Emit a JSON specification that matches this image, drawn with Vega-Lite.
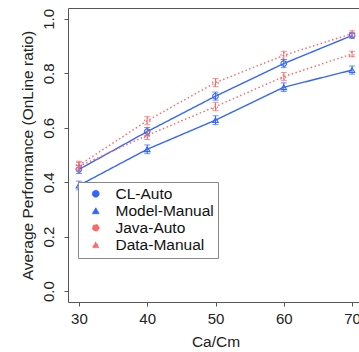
{
  "$schema": "https://vega.github.io/schema/vega-lite/v6.json",
  "autosize": "none",
  "width": 295,
  "height": 294,
  "padding": {"left": 68, "top": 8, "right": 0, "bottom": 50},
  "background": "white",
  "config": {
    "font": "Liberation Sans",
    "view": {"stroke": "#555", "strokeWidth": 1},
    "axis": {"grid": false, "domain": false, "tickColor": "#555", "tickSize": 4, "labelFont": "Liberation Sans", "titleFont": "Liberation Sans", "labelFontSize": 15, "titleFontSize": 15.5, "titleFontWeight": "normal", "labelColor": "#222", "titleColor": "#222"},
    "legend": {"orient": "none", "legendX": 10, "legendY": 174, "fillColor": "white", "strokeColor": "#888", "padding": 4, "labelFontSize": 15.5, "labelColor": "#111", "labelFont": "Liberation Sans", "symbolSize": 45, "symbolStrokeWidth": 1, "symbolFillColor": "transparent", "labelOffset": 12, "rowPadding": -4, "symbolOffset": 6}
  },
  "data": {"values": [
    {"series": "CL-Auto", "x": 30, "y": 0.447, "lo": 0.432, "hi": 0.462},
    {"series": "CL-Auto", "x": 40, "y": 0.586, "lo": 0.571, "hi": 0.601},
    {"series": "CL-Auto", "x": 50, "y": 0.716, "lo": 0.701, "hi": 0.731},
    {"series": "CL-Auto", "x": 60, "y": 0.836, "lo": 0.821, "hi": 0.851},
    {"series": "CL-Auto", "x": 70, "y": 0.939, "lo": 0.929, "hi": 0.949},
    {"series": "Model-Manual", "x": 30, "y": 0.388, "lo": 0.372, "hi": 0.404},
    {"series": "Model-Manual", "x": 40, "y": 0.521, "lo": 0.505, "hi": 0.537},
    {"series": "Model-Manual", "x": 50, "y": 0.628, "lo": 0.612, "hi": 0.644},
    {"series": "Model-Manual", "x": 60, "y": 0.749, "lo": 0.733, "hi": 0.765},
    {"series": "Model-Manual", "x": 70, "y": 0.812, "lo": 0.797, "hi": 0.827},
    {"series": "Java-Auto", "x": 30, "y": 0.462, "lo": 0.447, "hi": 0.477},
    {"series": "Java-Auto", "x": 40, "y": 0.626, "lo": 0.611, "hi": 0.641},
    {"series": "Java-Auto", "x": 50, "y": 0.766, "lo": 0.751, "hi": 0.781},
    {"series": "Java-Auto", "x": 60, "y": 0.866, "lo": 0.851, "hi": 0.881},
    {"series": "Java-Auto", "x": 70, "y": 0.946, "lo": 0.936, "hi": 0.956},
    {"series": "Data-Manual", "x": 30, "y": 0.458, "lo": 0.443, "hi": 0.473},
    {"series": "Data-Manual", "x": 40, "y": 0.572, "lo": 0.557, "hi": 0.587},
    {"series": "Data-Manual", "x": 50, "y": 0.678, "lo": 0.663, "hi": 0.693},
    {"series": "Data-Manual", "x": 60, "y": 0.788, "lo": 0.773, "hi": 0.803},
    {"series": "Data-Manual", "x": 70, "y": 0.871, "lo": 0.861, "hi": 0.881}
  ]},
  "encoding": {
    "x": {"field": "x", "type": "quantitative", "scale": {"domain": [28.4, 71.6], "nice": false, "zero": false},
      "axis": {"values": [30, 40, 50, 60, 70], "title": "Ca/Cm", "labelPadding": 5, "titlePadding": 8}},
    "y": {"field": "y", "type": "quantitative", "scale": {"domain": [-0.04, 1.04], "nice": false, "zero": false},
      "axis": {"values": [0, 0.2, 0.4, 0.6, 0.8, 1.0], "format": ".1f", "title": "Average Performance (OnLine ratio)", "labelAngle": -90, "labelAlign": "center", "labelBaseline": "alphabetic", "labelPadding": 10.7, "titleAngle": -90, "titleAlign": "center", "titleBaseline": "alphabetic", "titleX": -36}}
  },
  "layer": [
    {
      "mark": {"type": "point", "filled": false, "size": 30, "strokeWidth": 1.1, "opacity": 1},
      "encoding": {
        "color": {"field": "series", "type": "nominal", "title": null, "scale": {"domain": ["CL-Auto", "Model-Manual", "Java-Auto", "Data-Manual"], "range": ["#3366FF", "#3366FF", "#FF6666", "#FF6666"]}},
        "shape": {"field": "series", "type": "nominal", "title": null, "scale": {"domain": ["CL-Auto", "Model-Manual", "Java-Auto", "Data-Manual"], "range": ["circle", "triangle-up", "circle", "triangle-up"]}},
        "strokeDash": {"field": "series", "type": "nominal", "title": null, "scale": {"domain": ["CL-Auto", "Model-Manual", "Java-Auto", "Data-Manual"], "range": [[1, 0], [1, 0], [1.5, 2.5], [1.5, 2.5]]}}
      }
    },
    {
      "mark": {"type": "line", "strokeWidth": 1.4},
      "encoding": {
        "color": {"field": "series", "type": "nominal", "title": null},
        "strokeDash": {"field": "series", "type": "nominal", "title": null},
        "detail": {"field": "series"}
      }
    },
    {
      "mark": {"type": "errorbar", "ticks": {"size": 6}, "thickness": 1},
      "encoding": {
        "y": {"field": "lo", "type": "quantitative"},
        "y2": {"field": "hi"},
        "color": {"field": "series", "type": "nominal", "title": null}
      }
    }
  ]
}
